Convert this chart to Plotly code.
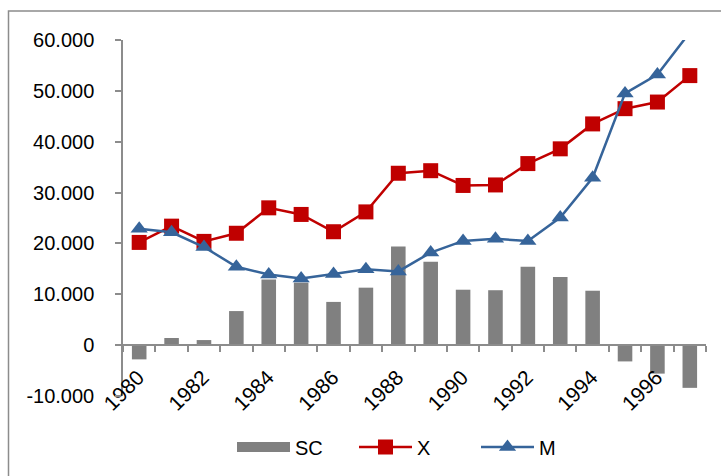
import plotly.graph_objects as go

years = list(range(1980, 1998))
sc = [-2800, 1400, 1000, 6700, 12900, 12300, 8500, 11300, 19400, 16400,
      10900, 10800, 15400, 13400, 10700, -3200, -5600, -8400]
x_vals = [20200, 23400, 20400, 22000, 27000, 25700, 22300, 26200, 33800, 34300,
          31400, 31500, 35700, 38600, 43500, 46500, 47800, 53000]
m_vals = [22900, 22200, 19300, 15400, 13900, 13100, 14000, 14900, 14500, 18200,
          20500, 20900, 20500, 25100, 32900, 49500, 53200, 61500]

y_ticks = [-10000, 0, 10000, 20000, 30000, 40000, 50000, 60000]
y_labels = ["-10.000", "0", "10.000", "20.000", "30.000", "40.000", "50.000", "60.000"]
x_label_years = [1980, 1982, 1984, 1986, 1988, 1990, 1992, 1994, 1996]

FONT = "Liberation Sans"
GRAY = "#808080"
AX = "#8c8c8c"

fig = go.Figure()
fig.add_trace(go.Bar(x=years, y=sc, name="SC", width=0.45, showlegend=False,
                     marker=dict(color=GRAY, line=dict(width=0))))
# legend entry for SC drawn as a wide rectangle (Excel style)
fig.add_trace(go.Scatter(x=[None], y=[None], name="SC", mode="lines",
                         line=dict(color=GRAY, width=13)))
fig.add_trace(go.Scatter(x=years, y=x_vals, name="X", mode="lines+markers",
                         line=dict(color="#C00000", width=2.5),
                         marker=dict(symbol="square", size=15, color="#C00000")))
fig.add_trace(go.Scatter(x=years, y=m_vals, name="M", mode="lines+markers",
                         line=dict(color="#36649A", width=2.5),
                         marker=dict(symbol="triangle-up", size=15, color="#36649A")))

ymin, ymax = -10000, 60000
fig.update_layout(
    width=721, height=476,
    margin=dict(l=123, r=15, t=40, b=80, autoexpand=False),
    paper_bgcolor="white", plot_bgcolor="white",
    font=dict(family=FONT, size=20, color="black"),
    showlegend=True,
    legend=dict(orientation="h", x=(232 - 123) / 583, xanchor="left",
                y=(396 - 447) / 356, yanchor="middle",
                font=dict(size=20), itemwidth=53, entrywidth=54,
                bgcolor="rgba(0,0,0,0)"),
    xaxis=dict(
        range=[1979.5, 1997.5], automargin=False,
        tickmode="array", tickvals=x_label_years, ticktext=[str(y) for y in x_label_years],
        tickangle=-45, ticks="", showgrid=False,
        showline=True, linecolor=AX, linewidth=1.5,
        anchor="free", position=(0 - ymin) / (ymax - ymin),
        ticklabelshift=-1, ticklabelstandoff=11,
        minor=dict(tickmode="array", tickvals=[y + 0.5 for y in range(1979, 1998)],
                   ticks="outside", ticklen=6, tickcolor=AX, tickwidth=1.5,
                   showgrid=False),
        tickfont=dict(size=21),
        zeroline=False,
    ),
    yaxis=dict(
        range=[ymin, ymax], automargin=False,
        tickmode="array", tickvals=y_ticks, ticktext=y_labels,
        showgrid=False, zeroline=False,
        showline=True, linecolor=AX, linewidth=1.5,
        ticks="outside", ticklen=6, tickcolor=AX, tickwidth=1.5,
        ticklabelstandoff=17, tickfont=dict(size=20),
    ),
    shapes=[dict(type="rect", xref="paper", yref="paper",
                 x0=(8.5 - 123) / 583, x1=(735 - 123) / 583,
                 y0=(396 - 495) / 356, y1=(396 - 11) / 356,
                 line=dict(color=AX, width=1.5), layer="below")],
)

fig.write_html("out.html", config={"displayModeBar": False},
               post_script="document.body.style.margin='0';document.body.style.overflow='hidden';")
